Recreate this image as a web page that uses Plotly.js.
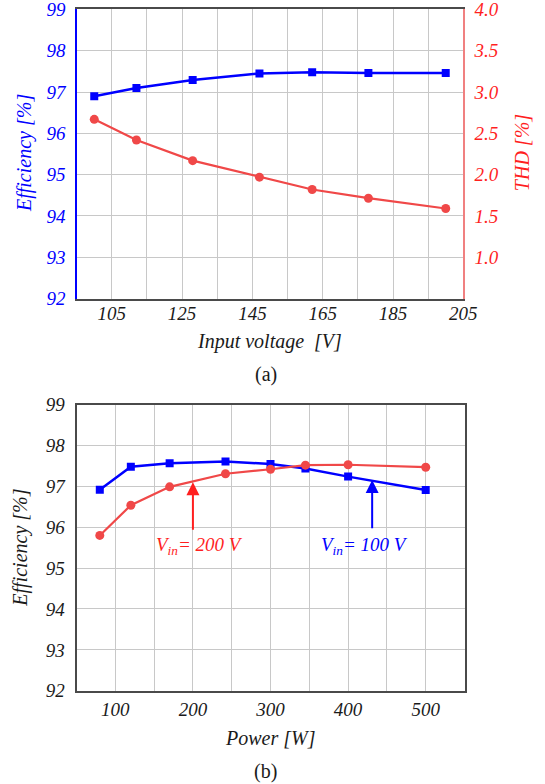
<!DOCTYPE html>
<html>
<head>
<meta charset="utf-8">
<script src="https://cdn.plot.ly/plotly-3.0.1.min.js"></script>
<style>
  html, body { margin: 0; padding: 0; background: #ffffff; }
  #chart { width: 545px; height: 784px; }
</style>
</head>
<body>
<div id="chart"></div>
<script>
// (a) efficiency and THD versus input voltage
const inputVoltage = [100, 112, 128, 147, 162, 178, 200];
const efficiencyVsVoltage = [96.90, 97.10, 97.29, 97.45, 97.48, 97.46, 97.46];
const thdVsVoltage = [2.67, 2.42, 2.17, 1.97, 1.82, 1.715, 1.59];

// (b) efficiency versus output power for two input voltages
const outputPower = [80, 120, 170, 242, 300, 345, 400, 500];
const efficiencyVin100 = [96.92, 97.48, 97.57, 97.61, 97.55, 97.44, 97.24, 96.91];
const efficiencyVin200 = [95.80, 96.54, 96.99, 97.31, 97.42, 97.52, 97.53, 97.47];

// tick labels
const voltageTicks = [105, 125, 145, 165, 185, 205];
const powerTicks = [100, 200, 300, 400, 500];
const efficiencyTicks = [92, 93, 94, 95, 96, 97, 98, 99];
const thdTicks = [1.0, 1.5, 2.0, 2.5, 3.0, 3.5, 4.0];

// callout arrows in panel (b): [power, tail efficiency, head efficiency]
const arrowVin200 = [200, 95.90, 97.10];
const arrowVin100 = [431, 95.94, 97.16];
const labelVin200 = [209, 95.55];
const labelVin100 = [421, 95.55];

const BLUE = '#0000ff';
const RED = '#f04848';
const RED_TEXT = '#ff1f1f';
const GRID = '#c8c8c8';
const FRAME = '#4a4a4a';
const SERIF = 'Liberation Serif, Times New Roman, serif';

const italic = (color, size) => ({ family: SERIF, size: size || 19, color: color, style: 'italic' });

const traces = [
  {
    x: inputVoltage, y: efficiencyVsVoltage, xaxis: 'x', yaxis: 'y',
    mode: 'lines+markers', line: { color: BLUE, width: 2.5 },
    marker: { symbol: 'square', size: 8, color: BLUE }
  },
  {
    x: inputVoltage, y: thdVsVoltage, xaxis: 'x', yaxis: 'y2',
    mode: 'lines+markers', line: { color: RED, width: 2.2 },
    marker: { symbol: 'circle', size: 9, color: RED }
  },
  {
    x: outputPower, y: efficiencyVin100, xaxis: 'x2', yaxis: 'y3',
    mode: 'lines+markers', line: { color: BLUE, width: 2.5 },
    marker: { symbol: 'square', size: 8, color: BLUE }
  },
  {
    x: outputPower, y: efficiencyVin200, xaxis: 'x2', yaxis: 'y3',
    mode: 'lines+markers', line: { color: RED, width: 2.2 },
    marker: { symbol: 'circle', size: 9, color: RED }
  }
];

const arrow = (a, color) => ({
  xref: 'x2', yref: 'y3', axref: 'x2', ayref: 'y3',
  x: a[0], y: a[2], ax: a[0], ay: a[1],
  text: '', showarrow: true, arrowhead: 2, arrowsize: 1.3,
  arrowwidth: 2, arrowcolor: color, standoff: 0, startstandoff: 0
});

const paperText = (text, x, y, font, angle) => ({
  xref: 'paper', yref: 'paper', x: x, y: y, xanchor: 'center', yanchor: 'middle',
  text: text, showarrow: false, font: font, textangle: angle || 0
});

const layout = {
  width: 545, height: 784,
  margin: { l: 0, r: 0, t: 0, b: 0 },
  paper_bgcolor: '#ffffff', plot_bgcolor: '#ffffff',
  showlegend: false,
  font: { family: SERIF },
  xaxis: {
    domain: [0.1407, 0.8501], anchor: 'y', range: [95, 205],
    tickvals: voltageTicks, ticktext: voltageTicks.map(String),
    ticks: '', tickfont: italic('#1a1a1a', 19), ticklabelstandoff: -3,
    ticklabeloverflow: 'allow',
    showgrid: true, gridcolor: GRID, gridwidth: 1,
    minor: { tick0: 95, dtick: 10, showgrid: true, gridcolor: GRID, gridwidth: 1 },
    showline: true, linecolor: FRAME, linewidth: 2, mirror: true, zeroline: false
  },
  yaxis: {
    domain: [0.6192, 0.9879], anchor: 'x', range: [92, 99],
    tickvals: efficiencyTicks, ticktext: efficiencyTicks.map(String),
    ticks: '', tickfont: italic(BLUE, 19), ticklabelstandoff: 6,
    ticklabeloverflow: 'allow',
    showgrid: true, gridcolor: GRID, gridwidth: 1,
    showline: true, linecolor: BLUE, linewidth: 1.5, zeroline: false
  },
  yaxis2: {
    overlaying: 'y', side: 'right', anchor: 'x', range: [0.5, 4.0],
    tickvals: thdTicks, ticktext: thdTicks.map(v => v.toFixed(1)),
    ticks: '', tickfont: italic(RED_TEXT, 19), ticklabelstandoff: 6,
    ticklabeloverflow: 'allow',
    showgrid: false, showline: true, linecolor: '#f08080', linewidth: 1.5, zeroline: false
  },
  xaxis2: {
    domain: [0.1404, 0.8523], anchor: 'y3', range: [50, 550],
    tickvals: powerTicks, ticktext: powerTicks.map(String),
    ticks: '', tickfont: italic('#1a1a1a', 19), ticklabelstandoff: 0,
    ticklabeloverflow: 'allow',
    showgrid: true, gridcolor: GRID, gridwidth: 1,
    minor: { tick0: 50, dtick: 50, showgrid: true, gridcolor: GRID, gridwidth: 1 },
    showline: true, linecolor: FRAME, linewidth: 2, mirror: true, zeroline: false
  },
  yaxis3: {
    domain: [0.1190, 0.4838], anchor: 'x2', range: [92, 99],
    tickvals: efficiencyTicks, ticktext: efficiencyTicks.map(String),
    ticks: '', tickfont: italic('#1a1a1a', 19), ticklabelstandoff: 6,
    ticklabeloverflow: 'allow',
    showgrid: true, gridcolor: GRID, gridwidth: 1,
    showline: true, linecolor: FRAME, linewidth: 2, mirror: true, zeroline: false
  },
  annotations: [
    paperText('Input voltage\u00a0\u00a0[V]', 0.4954, 0.5642, italic('#1a1a1a', 20)),
    paperText('(a)', 0.488, 0.5217, { family: SERIF, size: 20, color: '#1a1a1a' }),
    paperText('Efficiency [%]', 0.044, 0.8048, italic(BLUE, 20), -90),
    paperText('THD [%]', 0.958, 0.8048, italic(RED_TEXT, 20), -90),
    paperText('Power [W]', 0.4963, 0.0587, italic('#1a1a1a', 20)),
    paperText('(b)', 0.488, 0.0157, { family: SERIF, size: 20, color: '#1a1a1a' }),
    paperText('Efficiency [%]', 0.0385, 0.3014, italic('#1a1a1a', 20), -90),
    arrow(arrowVin200, '#ff1f1f'),
    arrow(arrowVin100, BLUE),
    {
      xref: 'x2', yref: 'y3', x: labelVin200[0], y: labelVin200[1],
      xanchor: 'center', yanchor: 'middle', showarrow: false,
      text: 'V<sub>in</sub>= 200 V', font: italic(RED_TEXT, 19)
    },
    {
      xref: 'x2', yref: 'y3', x: labelVin100[0], y: labelVin100[1],
      xanchor: 'center', yanchor: 'middle', showarrow: false,
      text: 'V<sub>in</sub>= 100 V', font: italic(BLUE, 19)
    }
  ]
};

Plotly.newPlot('chart', traces, layout, { staticPlot: true, displayModeBar: false });
</script>
</body>
</html>
